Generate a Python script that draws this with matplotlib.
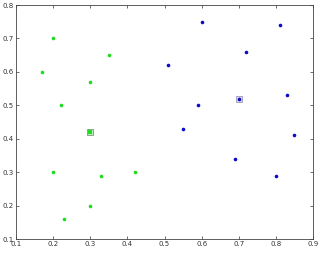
import numpy as np
import matplotlib
matplotlib.use("Agg")
import matplotlib.pyplot as plt

# cluster 1 (green)
gx = [0.17, 0.20, 0.22, 0.30, 0.35, 0.20, 0.23, 0.30, 0.33, 0.42]
gy = [0.60, 0.70, 0.50, 0.57, 0.65, 0.30, 0.16, 0.20, 0.29, 0.30]
# cluster 2 (blue)
bx = [0.51, 0.60, 0.59, 0.55, 0.72, 0.81, 0.83, 0.85, 0.69, 0.80]
by = [0.62, 0.75, 0.50, 0.43, 0.66, 0.74, 0.53, 0.41, 0.34, 0.29]
# centroids
cx = [0.30, 0.70]
cy = [0.42, 0.52]

xticks = [0.1, 0.2, 0.3, 0.4, 0.5, 0.6, 0.7, 0.8, 0.9]
yticks = [0.1, 0.2, 0.3, 0.4, 0.5, 0.6, 0.7, 0.8]

green = '#1fdc1f'
blue = '#0a0ac8'

fig = plt.figure(figsize=(3.22, 2.54), dpi=100)
ax = fig.add_axes([0.05, 0.059, 0.922, 0.921])

ax.plot(gx, gy, 'o', color=green, ms=2.6, mew=0)
ax.plot(bx, by, 'o', color=blue, ms=2.6, mew=0)

ax.plot(cx[0], cy[0], 's', mfc='#b8f0b8', mec='#70a070', ms=5, mew=0.6)
ax.plot(cx[0], cy[0], 's', color=green, ms=2.6, mew=0)
ax.plot(cx[1], cy[1], 's', mfc='#d8d8f0', mec='#9a9ab8', ms=5, mew=0.6)
ax.plot(cx[1], cy[1], 'o', color=blue, ms=2.6, mew=0)

ax.set_xlim(0.1, 0.9)
ax.set_ylim(0.1, 0.8)
ax.set_xticks(xticks)
ax.set_yticks(yticks)
ax.set_xticklabels([str(t) for t in xticks])
ax.set_yticklabels([str(t) for t in yticks])
ax.tick_params(direction='in', length=2.5, width=0.5, labelsize=5,
               top=True, right=True, pad=1.5, colors='#333333')
for s in ax.spines.values():
    s.set_linewidth(0.6)
    s.set_color('#444444')

fig.savefig('out.png', dpi=100)
